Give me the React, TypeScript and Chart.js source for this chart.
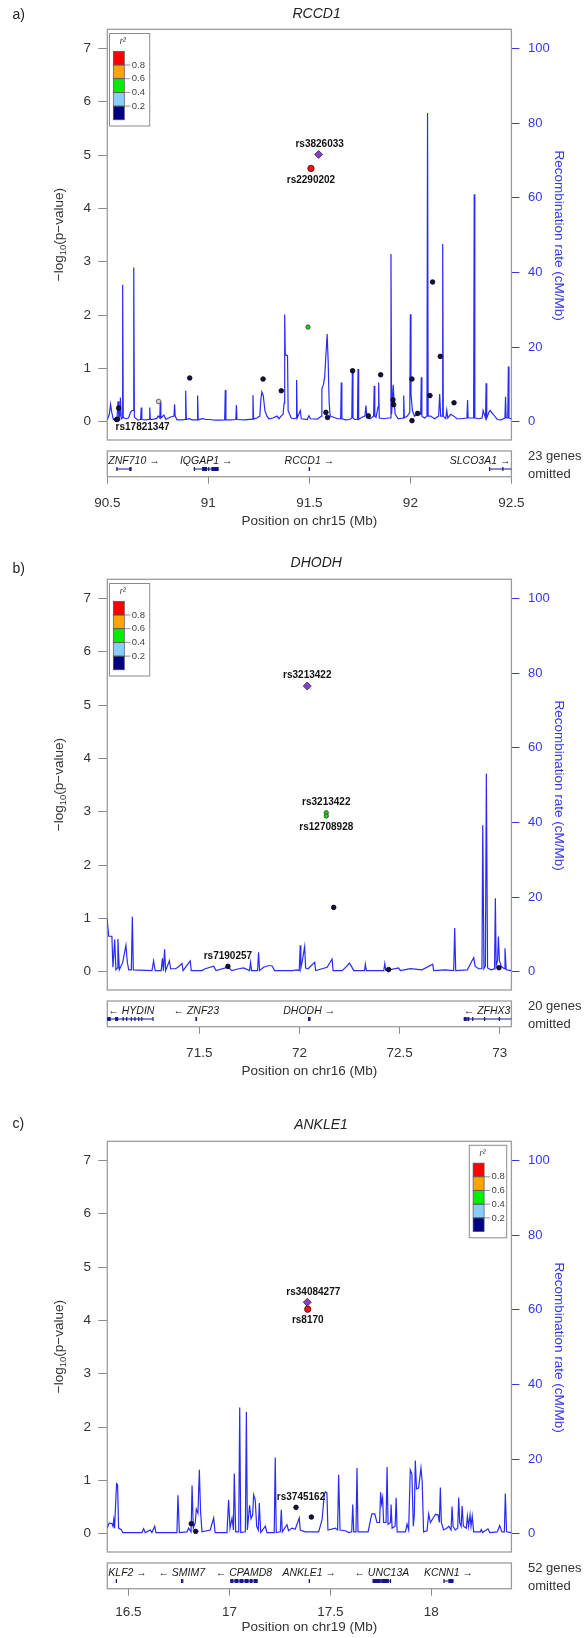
import { useEffect, useRef } from 'react';
import { Chart, registerables } from 'chart.js';
Chart.register(...registerables);

const FONT = "'Liberation Sans', Arial, Helvetica, sans-serif";
const BLUE_TEXT = '#3535f0';
const LINE_BLUE = '#2a2af5';
const TEXT = '#333333';
const BOX_GRAY = '#9c9c9c';
const TICK_GRAY = '#8a8a8a';
const NAVY = '#10104a';
const GENE_NAVY = '#16168a';
const R2_COLORS = ['#ff0000', '#ffa500', '#00ee00', '#87cefa', '#000080'];
const R2_LABELS = ['0.8', '0.6', '0.4', '0.2'];

const yTicks = [0, 1, 2, 3, 4, 5, 6, 7];
const recombTicks = [0, 20, 40, 60, 80, 100];

// ---------------- Panel a: RCCD1 (chr15) ----------------
const xTicksA = [90.5, 91, 91.5, 92, 92.5];
const recombA: [number, number][] = [
  [90.500,0.5],[90.510,2],[90.516,4.7],[90.522,2.5],[90.530,0.6],[90.548,0.8],[90.553,5.5],[90.557,1],[90.562,1.5],[90.565,6.5],[90.569,0.8],[90.574,1],[90.576,36.7],[90.579,1.2],[90.590,0.8],[90.605,1],[90.615,2.5],[90.622,3],[90.628,3],[90.631,41.3],[90.634,1.2],[90.650,0.5],[90.665,0.6],[90.668,3.8],[90.671,0.6],[90.690,0.5],[90.707,0.6],[90.710,3.8],[90.713,0.6],[90.730,0.7],[90.745,0.9],[90.752,1.5],[90.760,1],[90.762,5.4],[90.765,1],[90.780,1.8],[90.790,0.6],[90.810,1.2],[90.830,1.5],[90.833,4.7],[90.836,1.5],[90.845,0.5],[90.870,0.5],[90.885,0.6],[90.888,8.3],[90.891,0.6],[90.905,0.8],[90.920,0.5],[90.944,0.5],[90.947,7],[90.950,0.5],[90.970,0.8],[90.990,0.6],[91.010,0.6],[91.030,0.4],[91.060,0.4],[91.081,0.5],[91.084,8.5],[91.087,0.5],[91.110,0.5],[91.136,0.6],[91.139,4.5],[91.142,0.6],[91.180,0.5],[91.218,0.7],[91.221,7.1],[91.224,0.7],[91.240,1],[91.255,1.5],[91.260,6],[91.265,8],[91.272,7],[91.280,3],[91.290,1.5],[91.300,0.8],[91.320,1],[91.340,1.5],[91.350,0.8],[91.360,1.5],[91.370,2],[91.375,5],[91.378,28.7],[91.381,18],[91.392,17.7],[91.395,3],[91.410,1],[91.425,0.8],[91.434,1],[91.437,11.2],[91.440,1],[91.455,3],[91.460,0.8],[91.490,0.6],[91.498,1.6],[91.505,0.8],[91.540,0.7],[91.560,1.5],[91.562,8.8],[91.570,10],[91.576,12],[91.581,17],[91.588,23.5],[91.593,16.5],[91.598,5.2],[91.603,1.5],[91.620,1.2],[91.640,0.8],[91.655,0.8],[91.658,10.5],[91.661,0.8],[91.680,0.5],[91.700,0.6],[91.710,1],[91.713,13.7],[91.716,1],[91.725,0.6],[91.738,0.6],[91.741,14.1],[91.744,0.6],[91.760,1.2],[91.775,1.5],[91.780,4.3],[91.785,1],[91.800,0.8],[91.818,1.5],[91.821,9.6],[91.824,1.5],[91.830,1.2],[91.840,4],[91.843,10.5],[91.846,1],[91.870,0.8],[91.890,1],[91.901,1],[91.904,44.9],[91.907,2],[91.915,9.9],[91.920,4.9],[91.925,2],[91.940,0.8],[91.964,1],[91.967,7],[91.970,1],[91.985,1.5],[91.997,2.5],[92.000,28.8],[92.003,7.4],[92.010,3],[92.020,1.5],[92.040,2],[92.051,2],[92.054,11.9],[92.057,1.5],[92.070,1],[92.082,1.5],[92.085,82.7],[92.088,1.5],[92.100,1.5],[92.120,0.8],[92.140,1.5],[92.145,7.4],[92.150,1.5],[92.157,1.5],[92.160,47.6],[92.163,1.5],[92.175,0.8],[92.180,3.1],[92.185,1],[92.200,2],[92.215,1.5],[92.230,0.8],[92.250,0.8],[92.280,1],[92.283,5.8],[92.286,1],[92.300,1],[92.313,1],[92.316,60.9],[92.319,1],[92.340,0.8],[92.355,1],[92.360,3],[92.372,1],[92.375,10.3],[92.378,1],[92.390,2.7],[92.395,3],[92.410,2],[92.430,0.6],[92.450,0.5],[92.468,1],[92.471,6.7],[92.474,1],[92.482,1],[92.485,14.8],[92.488,1],[92.500,0.8]
];
const indexA: [number, number][] = [[91.546, 5.01]];
const redA: [number, number][] = [[91.508, 4.75]];
const greenA: [number, number][] = [[91.493, 1.775]];
const grayA: [number, number][] = [[90.754, 0.38]];
const navyA: [number, number][] = [
  [90.556,0.256],[90.546,0.04],[90.550,0.045],[90.908,0.82],[91.271,0.80],[91.361,0.58],[91.582,0.175],[91.590,0.08],[91.714,0.956],[91.792,0.11],[91.853,0.88],[91.914,0.41],[91.917,0.32],[92.008,0.80],[92.008,0.02],[92.036,0.156],[92.097,0.49],[92.110,2.62],[92.148,1.225],[92.216,0.355]
];
const genesA = [
  { name: 'ZNF710', start: 90.545, end: 90.620, strand: 1, exons: [[90.545,90.547],[90.609,90.620]] },
  { name: 'IQGAP1', start: 90.928, end: 91.051, strand: 1, exons: [[90.928,90.930],[90.969,90.994],[90.999,91.005],[91.015,91.051]] },
  { name: 'RCCD1', start: 91.497, end: 91.503, strand: 1, exons: [[91.497,91.503]] },
  { name: 'SLCO3A1', start: 92.389, end: 92.500, strand: 1, exons: [[92.389,92.391],[92.455,92.458]] },
];

// ---------------- Panel b: DHODH (chr16) ----------------
const xTicksB = [71.5, 72, 72.5, 73];
const recombB: [number, number][] = [
  [71.040,14.3],[71.044,14.3],[71.048,9.5],[71.064,9.5],[71.069,1.2],[71.074,5],[71.078,8.6],[71.084,0.5],[71.091,1],[71.094,8.75],[71.101,0.5],[71.118,2.5],[71.134,7.1],[71.141,2.5],[71.148,0.5],[71.161,0.5],[71.166,14.7],[71.171,0.5],[71.264,0.3],[71.272,2.9],[71.280,0.3],[71.310,0.3],[71.316,3.6],[71.321,0.3],[71.327,6],[71.332,0.3],[71.351,2.9],[71.357,0.8],[71.381,0.8],[71.394,1.2],[71.414,2.2],[71.419,0.3],[71.455,2.9],[71.460,0.3],[71.513,0.3],[71.530,0.8],[71.572,1.5],[71.584,0.3],[71.643,1.2],[71.663,0.3],[71.697,0.8],[71.721,1],[71.751,0.3],[71.756,2.5],[71.761,0.3],[71.791,0.3],[71.796,5.2],[71.801,0.3],[71.821,1.2],[71.843,1.6],[71.863,1.6],[71.876,0.3],[71.963,0.3],[71.988,0.5],[71.999,0.3],[72.004,7.1],[72.007,1],[72.013,2.5],[72.026,6.7],[72.031,1],[72.043,0.8],[72.076,2.5],[72.081,0.3],[72.113,0.8],[72.138,1.2],[72.163,3.4],[72.168,0.3],[72.213,0.3],[72.237,1.5],[72.249,2.3],[72.259,1.5],[72.271,0.3],[72.325,0.3],[72.329,2],[72.334,0.3],[72.421,0.3],[72.426,2.2],[72.431,0.3],[72.495,1],[72.504,0.3],[72.554,0.8],[72.612,0.5],[72.665,2],[72.670,0.3],[72.728,0.5],[72.770,0.3],[72.775,11.7],[72.780,0.3],[72.838,0.5],[72.870,3.8],[72.877,1.5],[72.894,0.8],[72.911,0.8],[72.915,39.2],[72.921,0.8],[72.928,1.5],[72.933,53],[72.939,1],[72.956,0.5],[72.974,0.8],[72.978,19.7],[72.982,1.5],[72.989,3],[72.993,9.4],[72.998,3],[73.007,1.5],[73.022,0.8],[73.026,6.3],[73.032,0.5],[73.058,0.3]
];
const indexB: [number, number][] = [[72.039, 5.357]];
const redB: [number, number][] = [];
const greenB: [number, number][] = [[72.134, 2.98], [72.134, 2.92]];
const grayB: [number, number][] = [];
const navyB: [number, number][] = [[72.171,1.206],[71.643,0.1],[72.445,0.04],[72.996,0.075]];
const genesB = [
  { name: 'HYDIN', start: 71.041, end: 71.268, strand: -1, exons: [[71.041,71.058],[71.080,71.095],[71.117,71.121],[71.135,71.139],[71.158,71.162],[71.176,71.180],[71.195,71.199],[71.210,71.214],[71.266,71.268]] },
  { name: 'ZNF23', start: 71.481, end: 71.489, strand: -1, exons: [[71.481,71.489]] },
  { name: 'DHODH', start: 72.043, end: 72.055, strand: 1, exons: [[72.043,72.055]] },
  { name: 'ZFHX3', start: 72.820, end: 73.058, strand: -1, exons: [[72.820,72.835],[72.838,72.848],[72.862,72.865],[72.921,72.924],[72.995,72.998]] },
];

// ---------------- Panel c: ANKLE1 (chr19) ----------------
const xTicksC = [16.5, 17, 17.5, 18];
const recombC: [number, number][] = [
  [16.394,1.5],[16.405,2.9],[16.418,2.7],[16.423,2],[16.427,3.75],[16.431,1.5],[16.438,10],[16.441,13.4],[16.446,13.1],[16.451,1.5],[16.465,1.1],[16.471,0.3],[16.567,0.3],[16.575,1.3],[16.583,0.3],[16.608,1],[16.616,0.3],[16.630,2],[16.636,0.3],[16.740,0.3],[16.745,10.3],[16.752,0.3],[16.790,0.5],[16.798,1.5],[16.810,0.5],[16.815,12.9],[16.821,1.5],[16.831,3],[16.836,6.6],[16.844,5.5],[16.851,17.1],[16.857,6],[16.864,0.5],[16.905,1],[16.922,4.2],[16.929,0.3],[16.988,0.3],[16.996,9.1],[17.003,1.5],[17.013,4.2],[17.020,1],[17.024,16.1],[17.031,0.5],[17.046,0.5],[17.051,33.8],[17.056,0.3],[17.079,0.5],[17.084,32.6],[17.089,1],[17.100,7.6],[17.107,4],[17.115,5],[17.120,10.4],[17.128,9],[17.135,2],[17.143,1],[17.148,8.2],[17.155,0.3],[17.178,2],[17.186,0.3],[17.222,0.3],[17.227,20.4],[17.232,0.3],[17.252,0.5],[17.257,6.4],[17.262,0.5],[17.285,2.4],[17.293,0.8],[17.310,1.5],[17.326,1.2],[17.346,4.2],[17.351,1],[17.376,0.5],[17.442,0.5],[17.459,3.75],[17.470,10.5],[17.475,11.2],[17.483,11],[17.488,1],[17.525,1.5],[17.536,1],[17.541,15.8],[17.548,1],[17.574,0.8],[17.591,0.3],[17.606,0.5],[17.611,7.8],[17.616,0.5],[17.627,0.5],[17.632,17.6],[17.637,0.5],[17.687,0.5],[17.700,4],[17.706,5.3],[17.720,5.3],[17.731,3],[17.744,3],[17.749,11.1],[17.754,8],[17.759,9.6],[17.764,3],[17.776,3],[17.781,17.9],[17.786,2.5],[17.798,3],[17.801,7.8],[17.806,1.5],[17.821,2],[17.826,9.6],[17.831,0.5],[17.872,0.5],[17.880,2.6],[17.888,1],[17.896,17.1],[17.904,16],[17.911,2],[17.916,5],[17.921,19.6],[17.927,12],[17.937,12.2],[17.949,17.6],[17.955,14],[17.962,0.5],[17.979,0.8],[17.987,5.3],[17.996,3],[18.007,4],[18.021,5.2],[18.034,5],[18.040,3],[18.045,12.4],[18.050,3],[18.061,1],[18.078,1.5],[18.087,2],[18.098,1],[18.103,7.3],[18.108,2],[18.119,1],[18.131,1.5],[18.136,9.7],[18.141,3],[18.148,2],[18.153,7.4],[18.159,2],[18.174,1.5],[18.179,4.7],[18.185,2],[18.192,5.1],[18.197,2],[18.203,4.7],[18.210,0.5],[18.243,0.5],[18.248,1.1],[18.254,0.3],[18.281,1.3],[18.290,0.3],[18.327,0.5],[18.339,2.2],[18.350,0.5],[18.362,0.5],[18.367,10.8],[18.373,0.5],[18.397,0.3]
];
const indexC: [number, number][] = [[17.386, 4.34]];
const redC: [number, number][] = [[17.388, 4.21]];
const greenC: [number, number][] = [];
const grayC: [number, number][] = [];
const navyC: [number, number][] = [[17.330,0.494],[17.406,0.3125],[16.811,0.1875],[16.833,0.044]];
const genesC = [
  { name: 'KLF2', start: 16.437, end: 16.441, strand: 1, exons: [[16.437,16.441]] },
  { name: 'SMIM7', start: 16.760, end: 16.768, strand: -1, exons: [[16.760,16.762],[16.766,16.768]] },
  { name: 'CPAMD8', start: 17.004, end: 17.140, strand: -1, exons: [[17.004,17.020],[17.025,17.045],[17.050,17.070],[17.075,17.095],[17.100,17.115],[17.120,17.140]] },
  { name: 'ANKLE1', start: 17.393, end: 17.398, strand: 1, exons: [[17.393,17.398]] },
  { name: 'UNC13A', start: 17.709, end: 17.801, strand: -1, exons: [[17.709,17.750],[17.752,17.790],[17.795,17.801]] },
  { name: 'KCNN1', start: 18.060, end: 18.110, strand: 1, exons: [[18.060,18.063],[18.085,18.110]] },
];

// ---------------- layout ----------------
const W = 584;
const H = 550;
const AREA_LEFT = 107.3;
const AREA_RIGHT = 511.4;
const AREA_TOP = 29.3;
const AREA_BOTTOM = 476.7;
const PLOT_BOTTOM = 440;
const GENE_TOP = 451;
const Y_MIN = -1.031;
const Y_MAX = 7.358;
const R_MIN = (Y_MIN * 100) / 7;
const R_MAX = (Y_MAX * 100) / 7;

type Label = { text: string; at: [number, number]; place: 'above' | 'below' | 'belowRight'; dx?: number };

type PanelDef = {
  key: string;
  top: number;
  letter: string;
  letterY: number;
  title: string;
  titleX: number;
  titleY: number;
  chr: string;
  xmin: number;
  xmax: number;
  xTicks: number[];
  xTickPad: number;
  xTitlePad: number;
  recomb: [number, number][];
  index: [number, number][];
  red: [number, number][];
  green: [number, number][];
  gray: [number, number][];
  navy: [number, number][];
  genes: { name: string; start: number; end: number; strand: number; exons: number[][] }[];
  omitted: string;
  legend: { x: number; y: number; w: number };
  labels: Label[];
};

const panels: PanelDef[] = [
  {
    key: 'a', top: 0, letter: 'a)', letterY: 15, title: 'RCCD1', titleX: 316.6, titleY: 14.3, chr: 'chr15',
    xmin: 90.5, xmax: 92.5, xTicks: xTicksA, xTickPad: 11.2, xTitlePad: 20.9, recomb: recombA,
    index: indexA, red: redA, green: greenA, gray: grayA, navy: navyA, genes: genesA,
    omitted: '23 genes', legend: { x: 109.5, y: 33.5, w: 40.2 },
    labels: [
      { text: 'rs3826033', at: indexA[0], place: 'above', dx: 1 },
      { text: 'rs2290202', at: redA[0], place: 'below' },
      { text: 'rs17821347', at: navyA[1], place: 'belowRight' },
    ],
  },
  {
    key: 'b', top: 550, letter: 'b)', letterY: 19, title: 'DHODH', titleX: 316.2, titleY: 13.3, chr: 'chr16',
    xmin: 71.041, xmax: 73.058, xTicks: xTicksB, xTickPad: 11.2, xTitlePad: 20.9, recomb: recombB,
    index: indexB, red: redB, green: greenB, gray: grayB, navy: navyB, genes: genesB,
    omitted: '20 genes', legend: { x: 109.5, y: 33.5, w: 40.2 },
    labels: [
      { text: 'rs3213422', at: indexB[0], place: 'above' },
      { text: 'rs3213422', at: greenB[0], place: 'above' },
      { text: 'rs12708928', at: greenB[1], place: 'below' },
      { text: 'rs7190257', at: navyB[1], place: 'above' },
    ],
  },
  {
    key: 'c', top: 1112, letter: 'c)', letterY: 12, title: 'ANKLE1', titleX: 321, titleY: 12.8, chr: 'chr19',
    xmin: 16.395, xmax: 18.397, xTicks: xTicksC, xTickPad: 8.2, xTitlePad: 26.5, recomb: recombC,
    index: indexC, red: redC, green: greenC, gray: grayC, navy: navyC, genes: genesC,
    omitted: '52 genes', legend: { x: 469.3, y: 33.3, w: 37.4 },
    labels: [
      { text: 'rs34084277', at: indexC[0], place: 'above', dx: 6 },
      { text: 'rs8170', at: redC[0], place: 'below' },
      { text: 'rs3745162', at: navyC[0], place: 'above', dx: 5 },
    ],
  },
];

const toXY = (arr: [number, number][]) => arr.map(([x, y]) => ({ x, y }));

function drawLegend(ctx: CanvasRenderingContext2D, lg: { x: number; y: number; w: number }) {
  const h = 92.5;
  ctx.save();
  ctx.fillStyle = '#ffffff';
  ctx.fillRect(lg.x, lg.y, lg.w, h);
  ctx.strokeStyle = '#8c8c8c';
  ctx.lineWidth = 1;
  ctx.strokeRect(lg.x, lg.y, lg.w, h);
  const cx = lg.x + 3.8;
  const cw = 11;
  const ct = lg.y + 17.8;
  const ch = 13.7;
  R2_COLORS.forEach((c, i) => {
    ctx.fillStyle = c;
    ctx.fillRect(cx, ct + i * ch, cw, ch);
  });
  ctx.strokeStyle = '#555555';
  ctx.lineWidth = 0.7;
  R2_COLORS.forEach((_, i) => ctx.strokeRect(cx, ct + i * ch, cw, ch));
  ctx.strokeStyle = '#777777';
  ctx.lineWidth = 0.8;
  ctx.fillStyle = '#444444';
  ctx.font = `9.5px ${FONT}`;
  ctx.textAlign = 'left';
  ctx.textBaseline = 'middle';
  R2_LABELS.forEach((t, i) => {
    const y = ct + (i + 1) * ch;
    ctx.beginPath();
    ctx.moveTo(cx + cw, y);
    ctx.lineTo(cx + cw + 6, y);
    ctx.stroke();
    ctx.fillText(t, cx + cw + 7.5, y);
  });
  ctx.font = `italic 9px ${FONT}`;
  ctx.textAlign = 'center';
  ctx.fillText('r²', cx + cw / 2 + 4, lg.y + 8);
  ctx.restore();
}

function drawLogTitle(ctx: CanvasRenderingContext2D, cx: number, cy: number) {
  const f1 = `13.5px ${FONT}`;
  const f2 = `9.5px ${FONT}`;
  const parts: [string, string, number][] = [
    ['−log', f1, 0],
    ['10', f2, 3.2],
    ['(p−value)', f1, 0],
  ];
  ctx.save();
  ctx.translate(cx, cy);
  ctx.rotate(-Math.PI / 2);
  let total = 0;
  const widths = parts.map(([t, f]) => {
    ctx.font = f;
    const w = ctx.measureText(t).width;
    total += w;
    return w;
  });
  let x = -total / 2;
  ctx.fillStyle = TEXT;
  ctx.textAlign = 'left';
  ctx.textBaseline = 'alphabetic';
  parts.forEach(([t, f, dy], i) => {
    ctx.font = f;
    ctx.fillText(t, x, 4.8 + dy);
    x += widths[i];
  });
  ctx.restore();
}

function makePlugin(p: PanelDef) {
  return {
    id: 'locus_' + p.key,
    beforeDatasetsDraw(chart: any) {
      const { ctx, chartArea: a } = chart;
      ctx.save();
      ctx.strokeStyle = BOX_GRAY;
      ctx.lineWidth = 1.3;
      ctx.strokeRect(a.left, a.top, a.right - a.left, PLOT_BOTTOM - a.top);
      ctx.strokeRect(a.left, GENE_TOP, a.right - a.left, a.bottom - GENE_TOP);
      ctx.restore();
    },
    afterDatasetsDraw(chart: any) {
      const { ctx, chartArea: a } = chart;
      const xs = chart.scales.x;
      const ys = chart.scales.y;
      ctx.save();
      // panel letter & title
      ctx.fillStyle = '#222222';
      ctx.textBaseline = 'middle';
      ctx.textAlign = 'left';
      ctx.font = `14px ${FONT}`;
      ctx.fillText(p.letter, 12.5, p.letterY);
      ctx.textAlign = 'center';
      ctx.font = `italic 14px ${FONT}`;
      ctx.fillText(p.title, p.titleX, p.titleY);

      // axis titles (left and right)
      const midY = (a.top + PLOT_BOTTOM) / 2;
      drawLogTitle(ctx, 57.7, midY);
      ctx.save();
      ctx.translate(558.7, midY + 1);
      ctx.rotate(Math.PI / 2);
      ctx.fillStyle = BLUE_TEXT;
      ctx.font = `13.5px ${FONT}`;
      ctx.textAlign = 'center';
      ctx.textBaseline = 'middle';
      ctx.fillText('Recombination rate (cM/Mb)', 0, 0);
      ctx.restore();

      // legend
      drawLegend(ctx, p.legend);

      // SNP labels
      ctx.fillStyle = '#111111';
      ctx.font = `bold 10px ${FONT}`;
      ctx.textBaseline = 'middle';
      p.labels.forEach((l) => {
        const px = xs.getPixelForValue(l.at[0]);
        const py = ys.getPixelForValue(l.at[1]);
        if (l.place === 'belowRight') {
          ctx.textAlign = 'left';
          ctx.fillText(l.text, px - 1, py + 8);
        } else {
          ctx.textAlign = 'center';
          ctx.fillText(l.text, px + (l.dx || 0), py + (l.place === 'above' ? -10.5 : 11.5));
        }
      });

      // gene track
      const glyphY = 469;
      const labelY = 461;
      p.genes.forEach((g) => {
        const x1 = xs.getPixelForValue(g.start);
        const x2 = xs.getPixelForValue(g.end);
        ctx.strokeStyle = GENE_NAVY;
        ctx.fillStyle = GENE_NAVY;
        ctx.lineWidth = 1;
        ctx.beginPath();
        ctx.moveTo(x1, glyphY);
        ctx.lineTo(Math.max(x2, x1 + 0.5), glyphY);
        ctx.stroke();
        g.exons.forEach(([s, e]) => {
          const e1 = xs.getPixelForValue(s);
          const e2 = xs.getPixelForValue(e);
          ctx.fillRect(e1, glyphY - 2, Math.max(e2 - e1, 1.2), 4);
        });
        const text = g.strand > 0 ? `${g.name} →` : `← ${g.name}`;
        ctx.font = `italic 10.5px ${FONT}`;
        const tw = ctx.measureText(text).width;
        let lx = (x1 + x2) / 2 - tw / 2;
        lx = Math.max(a.left + 1, Math.min(a.right - 1 - tw, lx));
        ctx.fillStyle = '#1a1a1a';
        ctx.textAlign = 'left';
        ctx.textBaseline = 'middle';
        ctx.fillText(text, lx, labelY);
      });

      // genes omitted
      ctx.fillStyle = TEXT;
      ctx.font = `13px ${FONT}`;
      ctx.textAlign = 'left';
      ctx.textBaseline = 'middle';
      ctx.fillText(p.omitted, 528, 456);
      ctx.fillText('omitted', 528, 474);
      ctx.restore();
    },
  };
}

function buildConfig(p: PanelDef): any {
  const tickFont = { family: FONT, size: 13.5 };
  return {
    type: 'scatter',
    data: {
      datasets: [
        { label: 'index', data: toXY(p.index), pointStyle: 'rectRot', pointRadius: 4, backgroundColor: '#8a3dd0', borderColor: '#2a2a2a', borderWidth: 0.8 },
        { label: 'r2 0.8-1', data: toXY(p.red), pointStyle: 'circle', pointRadius: 3.2, backgroundColor: '#ff1010', borderColor: '#3a1010', borderWidth: 0.8 },
        { label: 'r2 0.4-0.6', data: toXY(p.green), pointStyle: 'circle', pointRadius: 2.2, backgroundColor: '#22cc22', borderColor: '#1f4f1f', borderWidth: 0.8 },
        { label: 'r2 NA', data: toXY(p.gray), pointStyle: 'circle', pointRadius: 2.3, backgroundColor: '#cfcfcf', borderColor: '#555555', borderWidth: 0.9 },
        { label: 'r2 0-0.2', data: toXY(p.navy), pointStyle: 'circle', pointRadius: 2.3, backgroundColor: NAVY, borderColor: '#000000', borderWidth: 0.8 },
        {
          type: 'line', label: 'recombination', data: toXY(p.recomb), yAxisID: 'y2',
          borderColor: LINE_BLUE, borderWidth: 1.2, pointRadius: 0, tension: 0, fill: false,
        },
      ],
    },
    options: {
      animation: false,
      responsive: false,
      devicePixelRatio: 1,
      events: [],
      layout: { padding: { top: AREA_TOP, left: 0, right: 0, bottom: 0 } },
      plugins: { legend: { display: false }, tooltip: { enabled: false }, title: { display: false } },
      scales: {
        x: {
          type: 'linear', position: 'bottom', min: p.xmin, max: p.xmax,
          afterBuildTicks: (s: any) => { s.ticks = p.xTicks.map((v) => ({ value: v })); },
          afterFit: (s: any) => { s.height = H - AREA_BOTTOM; },
          grid: { drawOnChartArea: false, drawTicks: true, tickLength: 7, color: TICK_GRAY, lineWidth: 1 },
          border: { display: false },
          ticks: { color: TEXT, font: tickFont, padding: p.xTickPad, maxRotation: 0, autoSkip: false, callback: (v: any) => String(v) },
          title: { display: true, text: `Position on ${p.chr} (Mb)`, color: TEXT, font: tickFont, padding: { top: 0, bottom: p.xTitlePad } },
        },
        y: {
          type: 'linear', position: 'left', min: Y_MIN, max: Y_MAX,
          afterBuildTicks: (s: any) => { s.ticks = yTicks.map((v) => ({ value: v })); },
          afterFit: (s: any) => { s.width = AREA_LEFT; },
          grid: { drawOnChartArea: false, drawTicks: true, tickLength: 9, color: TICK_GRAY, lineWidth: 1 },
          border: { display: false },
          ticks: { color: TEXT, font: tickFont, padding: 7.3, callback: (v: any) => String(v) },
        },
        y2: {
          type: 'linear', position: 'right', min: R_MIN, max: R_MAX,
          afterBuildTicks: (s: any) => { s.ticks = recombTicks.map((v) => ({ value: v })); },
          afterFit: (s: any) => { s.width = W - AREA_RIGHT; },
          grid: { drawOnChartArea: false, drawTicks: true, tickLength: 8, color: BLUE_TEXT, lineWidth: 1 },
          border: { display: false },
          ticks: { color: BLUE_TEXT, font: { family: FONT, size: 13 }, padding: 8.6, callback: (v: any) => String(v) },
        },
      },
    },
    plugins: [makePlugin(p)],
  };
}

function Panel({ p }: { p: PanelDef }) {
  const ref = useRef<HTMLCanvasElement>(null);
  useEffect(() => {
    if (!ref.current) return;
    const chart = new Chart(ref.current, buildConfig(p));
    return () => chart.destroy();
  }, [p]);
  return (
    <canvas
      ref={ref}
      width={W}
      height={H}
      style={{ position: 'absolute', left: 0, top: p.top, width: W, height: H, display: 'block' }}
    />
  );
}

export default function App() {
  return (
    <div style={{ position: 'absolute', left: 0, top: 0, width: W, height: 1638, overflow: 'hidden', background: '#ffffff' }}>
      {panels.map((p) => (
        <Panel key={p.key} p={p} />
      ))}
    </div>
  );
}
